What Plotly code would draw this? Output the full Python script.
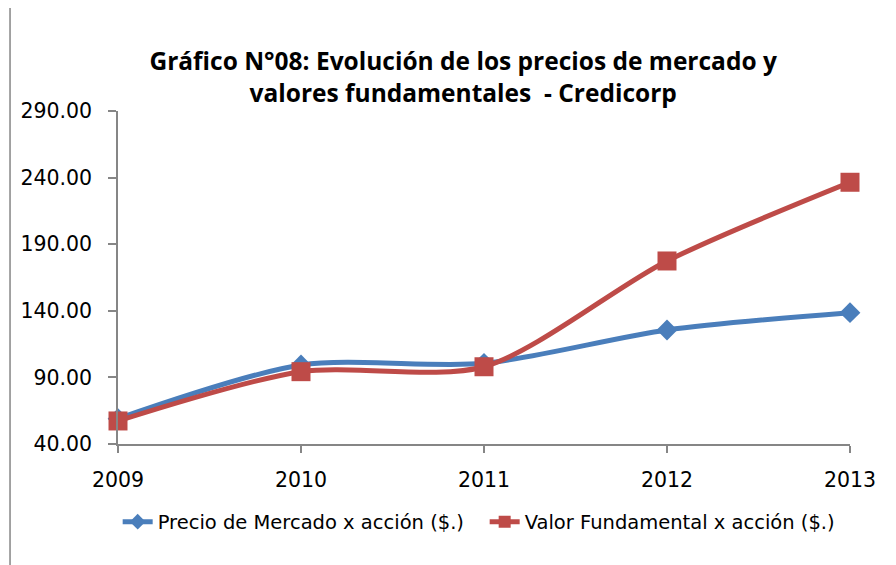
import plotly.graph_objects as go

years = ["2009", "2010", "2011", "2012", "2013"]
precio_mercado = [59.0, 99.3, 100.6, 125.6, 138.6]
valor_fundamental = [57.3, 94.3, 98.0, 177.4, 236.5]
y_ticks = [40, 90, 140, 190, 240, 290]
y_tick_labels = ["40.00", "90.00", "140.00", "190.00", "240.00", "290.00"]

title_text = ("<b>Gráfico N°08: Evolución de los precios de mercado y<br>"
              "valores fundamentales  - Credicorp</b>")

fig = go.Figure()
fig.add_trace(go.Scatter(
    x=years, y=precio_mercado, mode="lines+markers",
    name="Precio de Mercado x acción ($.)",
    line=dict(color="#4A7EBB", width=5, shape="spline", smoothing=0.8),
    marker=dict(symbol="diamond", size=16, color="#4A7EBB"),
    cliponaxis=False,
))
fig.add_trace(go.Scatter(
    x=years, y=valor_fundamental, mode="lines+markers",
    name="Valor Fundamental x acción ($.)",
    line=dict(color="#BE4B48", width=5, shape="spline", smoothing=0.8),
    marker=dict(symbol="square", size=19, color="#BE4B48"),
    cliponaxis=False,
))

fig.update_layout(
    width=896, height=565,
    margin=dict(l=110, r=54, t=103, b=129),
    paper_bgcolor="white", plot_bgcolor="white",
    title=dict(text=title_text, x=0.508, xref="container", xanchor="center",
               y=0.890, yref="container", yanchor="middle",
               font=dict(family="Open Sans", size=24.5, color="black")),
    showlegend=True,
    legend=dict(orientation="h", x=0.532, xref="container", xanchor="center",
                y=0.0903, yref="container", yanchor="middle",
                font=dict(family="DejaVu Sans", size=19.5, color="black"),
                entrywidth=322, entrywidthmode="pixels",
                itemsizing="constant", traceorder="normal"),
    xaxis=dict(type="category", range=[0, 4], showgrid=False, zeroline=False,
               automargin=False,
               showline=True, linecolor="#868686", linewidth=1.5,
               ticks="outside", ticklen=7, tickcolor="#868686", tickwidth=1.5,
               ticklabelstandoff=10,
               tickfont=dict(family="DejaVu Sans", size=20.5, color="black")),
    yaxis=dict(range=[40, 290], tickvals=y_ticks, ticktext=y_tick_labels,
               automargin=False,
               showgrid=False, zeroline=False, showline=True,
               linecolor="#868686", linewidth=1.5,
               ticks="outside", ticklen=8, tickcolor="#868686", tickwidth=1.5,
               ticklabelstandoff=12,
               tickfont=dict(family="DejaVu Sans", size=20.5, color="black")),
    shapes=[dict(type="rect", xref="paper", yref="paper",
                 x0=-0.1475, x1=1.2, y0=-0.4, y1=1.324,
                 line=dict(color="#868686", width=1.5), layer="below")],
)

fig.write_html("out.html")
